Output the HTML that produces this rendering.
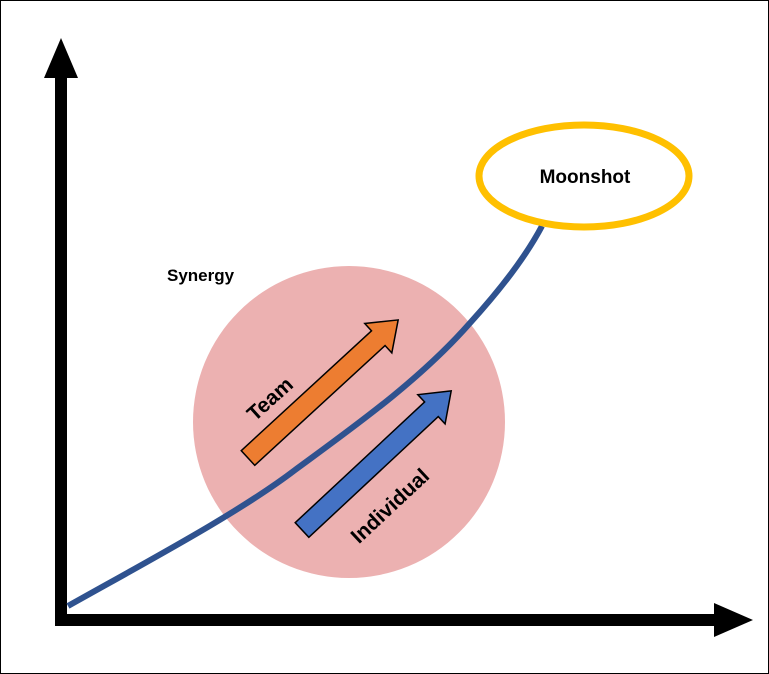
<!DOCTYPE html>
<html><head><style>
html,body{margin:0;padding:0;background:#fff;}
svg{display:block;}
text{font-family:"Liberation Sans",sans-serif;font-weight:bold;fill:#000;}
</style></head><body>
<svg width="769" height="674" viewBox="0 0 769 674">
<rect x="0.5" y="0.5" width="768" height="673" fill="#fff" stroke="#000" stroke-width="1"/>
<circle cx="349" cy="422" r="156" fill="#ecb1b1"/>
<rect x="55" y="76" width="12" height="550" fill="#000"/>
<polygon points="61,38 44,78 78,78" fill="#000"/>
<rect x="55" y="614" width="662" height="12" fill="#000"/>
<polygon points="753,620 714,603 714,637" fill="#000"/>
<path d="M68,606 C150,560 240,512 295,470 C355,426 420,380 470,323 C500,290 525,258 542,226" fill="none" stroke="#2f528f" stroke-width="6"/>
<g transform="translate(248,458) rotate(-42.6)">
<polygon points="0,-10 177,-10 177,-20 204,0 177,20 177,10 0,10" fill="#ed7d31" stroke="#000" stroke-width="1.5"/>
</g>
<g transform="translate(302,530) rotate(-43)">
<polygon points="0,-10 177,-10 177,-20 204,0 177,20 177,10 0,10" fill="#4472c4" stroke="#000" stroke-width="1.5"/>
</g>
<text x="270" y="406" font-size="21" text-anchor="middle" transform="rotate(-42 270 399)">Team</text>
<text x="390" y="513" font-size="21" text-anchor="middle" transform="rotate(-43 390 506)">Individual</text>
<text x="167" y="281" font-size="17">Synergy</text>
<ellipse cx="584" cy="176" rx="105" ry="51" fill="#fff" stroke="#ffc000" stroke-width="7"/>
<text x="585" y="183" font-size="19" text-anchor="middle">Moonshot</text>
</svg>
</body></html>
